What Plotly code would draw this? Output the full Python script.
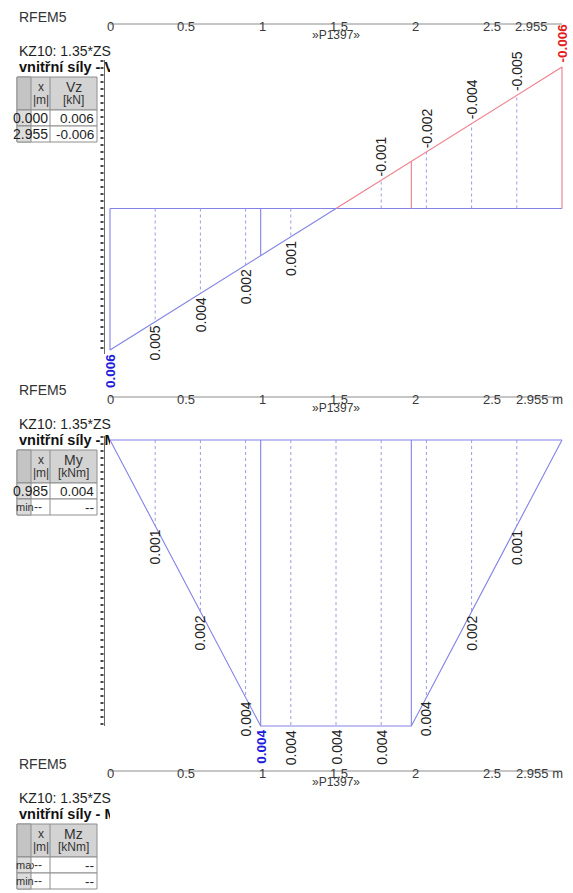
import plotly.graph_objects as go

# ---------------------------------------------------------------- data
W, H = 573, 893
L = 2.955                      # member length [m]

# result stations along the member [m]; "div" = tenth points, "node" = FE nodes
x_st = [0.0, 0.2955, 0.591, 0.8865, 0.985, 1.182, 1.4775, 1.773, 1.97, 2.0685, 2.364, 2.6595, 2.955]
kind = ["end", "div", "div", "div", "node", "div", "div", "div", "node", "div", "div", "div", "end"]

# internal forces at the stations
vz = [0.006, 0.0048, 0.0036, 0.0024, 0.0020, 0.0012, 0.0, -0.0012, -0.0020, -0.0024, -0.0036, -0.0048, -0.006]
my = [0.0, 0.0012, 0.0024, 0.0036, 0.004, 0.004, 0.004, 0.004, 0.004, 0.0036, 0.0024, 0.0012, 0.0]

ruler_ticks = [0, 0.5, 1, 1.5, 2, 2.5]
ruler_text = ["0", "0.5", "1", "1.5", "2", "2.5"]
member_name = "»P1397»"
program = "RFEM5"
combo = "KZ10: 1.35*ZS"
heading = "vnitřní síly - "

quantities = ["Vz", "My", "Mz"]
units = ["[kN]", "[kNm]", "[kNm]"]
table_rows = [
    [("", "0.000", "0.006"), ("", "2.955", "-0.006")],
    [("", "0.985", "0.004"), ("min", "--", "--")],
    [("max", "--", "--"), ("min", "--", "--")],
]

# ---------------------------------------------------------------- layout scales
PX_PER_M = 452 / L
X0 = 110                       # pixel column of x = 0
OFFS = [0, 373, 747]           # vertical start of each block

VZ_BASE, VZ_K = 208.5, 141.5 / 0.006
MY_BASE, MY_K = 440.0, 286.0 / 0.004

BLUE = "#8282e8"
RED = "#ee7f8c"
DOT = "#9c9ce4"
TXT = "#222222"
GREY = "#3a3a3a"
FONT = "Liberation Sans, Arial, sans-serif"

fig = go.Figure()
shapes, annotations = [], []


def seg_trace(xs, ys, yax, color, dash="solid", width=1.1):
    fig.add_trace(go.Scatter(x=xs, y=ys, xaxis="x", yaxis=yax, mode="lines",
                             line=dict(color=color, width=width, dash=dash),
                             hoverinfo="skip", showlegend=False))


def page_text(x, y, text, size=13, color=GREY, xanchor="center", yanchor="middle",
              bold=False, width=None, xref="x2"):
    a = dict(x=x, y=y, xref=xref, yref="y3", text=f"<b>{text}</b>" if bold else text,
             showarrow=False, xanchor=xanchor, yanchor=yanchor, borderpad=0,
             font=dict(family=FONT, size=size, color=color))
    if width is not None:
        a["width"] = width
        a["align"] = "left"
    annotations.append(a)


def page_line(x0, y0, x1, y1, color, width=1, dash="solid", xref="x2"):
    shapes.append(dict(type="line", xref=xref, yref="y3", x0=x0, y0=y0, x1=x1, y1=y1,
                       line=dict(color=color, width=width, dash=dash)))


def page_rect(x0, y0, x1, y1, fill, color="#8e8e8e"):
    shapes.append(dict(type="rect", xref="x2", yref="y3", x0=x0, y0=y0, x1=x1, y1=y1,
                       fillcolor=fill, line=dict(color=color, width=1)))


def draw_diagram(vals, yax):
    # outline: positive part blue, negative part red
    pos = [(x_st[0], 0.0)] + [(x, v) for x, v in zip(x_st, vals) if v >= 0]
    neg = [(x, v) for x, v in zip(x_st, vals) if v <= 0]
    seg_trace([x_st[0], x_st[-1]], [0, 0], yax, BLUE)
    if len(pos) > 1:
        if pos[-1][1] != 0:
            pos.append((pos[-1][0], 0.0))
        seg_trace([p[0] for p in pos], [p[1] for p in pos], yax, BLUE)
    if any(v < 0 for v in vals):
        neg = neg + [(x_st[-1], 0.0)]
        seg_trace([p[0] for p in neg], [p[1] for p in neg], yax, RED)
    # verticals at nodes (solid) and tenth points (dotted)
    for x, k, v in zip(x_st, kind, vals):
        if k == "node":
            seg_trace([x, x], [0, v], yax, BLUE if v >= 0 else RED)
        elif k == "div" and v != 0:
            seg_trace([x, x], [0, v], yax, DOT, dash="dot", width=1)
    # value labels; extremes in bold colour
    vmax, vmin = max(vals), min(vals)
    imax = vals.index(vmax)
    imin = vals.index(vmin)
    for i, (x, k, v) in enumerate(zip(x_st, kind, vals)):
        bold = (i == imax and vmax > 0) or (i == imin and vmin < 0)
        if not bold and (k != "div" or v == 0):
            continue
        color = TXT
        if bold:
            color = "#1c1cdc" if v > 0 else "#e41c1c"
        txt = f"{v:.3f}"
        annotations.append(dict(
            x=x, y=v, xref="x", yref=yax, text=f"<b>{txt}</b>" if bold else txt,
            showarrow=False, textangle=-90, xanchor="center",
            yanchor="top" if v > 0 else "bottom", yshift=-3 if v > 0 else 3,
            borderpad=0, font=dict(family=FONT, size=14 if not bold else 13.5, color=color)))


def draw_block(b):
    o = OFFS[b]
    page_text(18, 17 + o, program, size=14, xanchor="left", color="#333333")
    # member ruler
    page_line(0, 24 + o, L, 24 + o, "#8c8c8c", xref="x")
    for t, s in zip(ruler_ticks, ruler_text):
        page_text(t, 26.5 + o, s, size=13, xref="x")
    end_txt = f"{L:.3f}" if b == 0 else f"{L:.3f} m"
    annotations.append(dict(x=L, y=26.5 + o, xref="x", yref="y3", text=end_txt, showarrow=False,
                            xanchor="right", yanchor="middle", xshift=-12 if b == 0 else 3,
                            font=dict(family=FONT, size=13, color=GREY)))
    page_text(L / 2, 35 + o, member_name, size=12, xref="x")
    # headings, clipped at the diagram frame
    page_text(18, 51 + o, combo, size=14, xanchor="left", color="#1e1e1e")
    page_text(18, 67 + o, heading + quantities[b], size=14.5, xanchor="left",
              bold=True, width=91, color="#111111")
    # result table
    xl, xa, xb, xr = 17, 31, 50, 97
    h0, h1, rh = 77 + o, 110 + o, 16
    page_rect(xl, h0, xr, h1, "#d3d3d3")
    page_rect(xl, h0, xa, h1, "#c4c4c4")
    page_line(xb, h0, xb, h1, "#8e8e8e")
    page_text((xa + xb) / 2, 87 + o, "x", size=12, color="#333")
    page_text((xa + xb) / 2, 100 + o, "|m|", size=12, color="#333")
    page_text((xb + xr) / 2, 87 + o, quantities[b], size=14, color="#333")
    page_text((xb + xr) / 2, 100 + o, units[b], size=12, color="#333")
    for r, (lab, xv, val) in enumerate(table_rows[b]):
        y0 = h1 + r * rh
        page_rect(xl, y0, xr, y0 + rh, "#ffffff")
        page_rect(xl, y0, xa, y0 + rh, "#dcdcdc")
        page_line(xb, y0, xb, y0 + rh, "#8e8e8e")
        yc = y0 + rh / 2
        if lab:
            page_text(15, yc, lab, size=11, xanchor="left", width=18, color="#333")
        if xv == "--":
            page_text(33, yc, xv, size=12, xanchor="left", color="#333")
        else:
            page_text(49, yc, xv, size=14, xanchor="right", color="#1e1e1e")
        page_text(95, yc, val, size=13.5, xanchor="right", color="#1e1e1e")


def draw_side_ruler(y_top, y_bot):
    page_line(104.5, y_top, 104.5, y_bot, "#6a6a6a", width=1)
    page_line(102, y_top, 102, y_bot, "#4a4a4a", width=3, dash="2px,5px")


for b in range(3):
    draw_block(b)

draw_side_ruler(60, 354)
draw_diagram(vz, "y")
draw_side_ruler(436, 726)
draw_diagram(my, "y2")

fig.update_layout(
    width=W, height=H, margin=dict(l=0, r=0, t=0, b=0),
    paper_bgcolor="white", plot_bgcolor="white", showlegend=False,
    xaxis=dict(range=[-X0 / PX_PER_M, (W - X0) / PX_PER_M], visible=False,
               domain=[0, 1], fixedrange=True),
    yaxis=dict(range=[(H - VZ_BASE) / VZ_K, -VZ_BASE / VZ_K], visible=False,
               domain=[0, 1], fixedrange=True),
    yaxis2=dict(range=[(H - MY_BASE) / MY_K, -MY_BASE / MY_K], visible=False,
                overlaying="y", anchor="x", fixedrange=True),
    xaxis2=dict(range=[0, W], visible=False, overlaying="x", anchor="y3", fixedrange=True),
    yaxis3=dict(range=[H, 0], visible=False, overlaying="y", anchor="x2", fixedrange=True),
    shapes=shapes, annotations=annotations,
)
# invisible anchor so the page axes exist
fig.add_trace(go.Scatter(x=[0], y=[0], xaxis="x2", yaxis="y3", mode="markers",
                         marker=dict(opacity=0), hoverinfo="skip", showlegend=False))

fig.write_html("out.html")
